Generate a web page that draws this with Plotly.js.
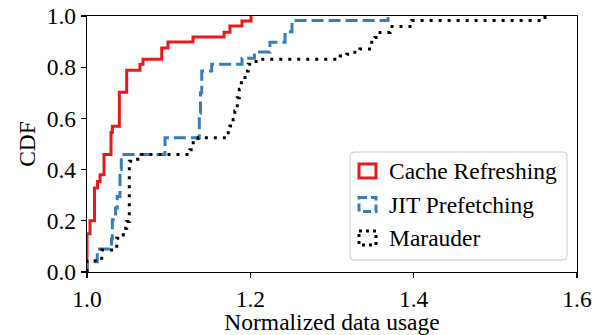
<!DOCTYPE html>
<html>
<head>
<meta charset="utf-8">
<script src="https://cdn.plot.ly/plotly-3.0.1.min.js"></script>
<style>html,body{margin:0;padding:0;background:#fff;}#chart{width:602px;height:335px;}</style>
</head>
<body>
<div id="chart"></div>
<script>
// ---- Data ----
const seriesNames = ["Cache Refreshing", "JIT Prefetching", "Marauder"];

const cacheX = [1.0, 1.0, 1.0037, 1.0092, 1.0129, 1.016, 1.0208, 1.0294, 1.031, 1.0396, 1.0486, 1.0649, 1.0686, 1.0915, 1.0992, 1.1298, 1.1678, 1.1751, 1.1898, 1.2008];
const cacheY = [0, 0.149, 0.2, 0.328, 0.354, 0.38, 0.459, 0.545, 0.569, 0.702, 0.788, 0.812, 0.831, 0.875, 0.898, 0.918, 0.937, 0.961, 0.980, 1.0];

const jitX = [1.0, 1.0, 1.0126, 1.030, 1.031, 1.035, 1.037, 1.0404, 1.042, 1.0955, 1.1375, 1.139, 1.1405, 1.1527, 1.1898, 1.205, 1.224, 1.2425, 1.251, 1.3686];
const jitY = [0, 0.04, 0.09, 0.13, 0.204, 0.25, 0.295, 0.40, 0.459, 0.524, 0.62, 0.70, 0.785, 0.812, 0.835, 0.859, 0.897, 0.938, 0.982, 1.0];

const marX = [1.0, 1.0, 1.018, 1.0364, 1.0404, 1.0444, 1.0486, 1.0518, 1.062, 1.067, 1.126, 1.130, 1.136, 1.173, 1.175, 1.179, 1.181, 1.184, 1.1865, 1.189, 1.1935, 1.1975, 1.207, 1.310, 1.318, 1.328, 1.334, 1.3486, 1.3527, 1.3588, 1.371, 1.3976, 1.5608];
const marY = [0, 0.044, 0.086, 0.132, 0.145, 0.171, 0.197, 0.433, 0.44, 0.459, 0.478, 0.505, 0.524, 0.544, 0.570, 0.596, 0.629, 0.681, 0.714, 0.76, 0.785, 0.812, 0.831, 0.844, 0.851, 0.858, 0.871, 0.897, 0.916, 0.936, 0.959, 0.982, 1.0];

const xTicks = [1.0, 1.2, 1.4, 1.6];
const yTicks = [0.0, 0.2, 0.4, 0.6, 0.8, 1.0];
const xTitle = "Normalized data usage";
const yTitle = "CDF";

// ---- Styles ----
const colors = ["#e41a1c", "#377eb8", "#000000"];
const dashes = ["solid", "12px,5px", "3px,6px"];
const FONT = "Liberation Serif, Times New Roman, serif";
const FS = 23.5;

const W = 602, H = 335;
const M = {l: 87, r: 25, t: 16, b: 63};
const pw = W - M.l - M.r, ph = H - M.t - M.b;
const px = v => (v - M.l) / pw;
const py = v => (H - M.b - v) / ph;

const xs = [cacheX, jitX, marX], ys = [cacheY, jitY, marY];
const traces = xs.map((x, i) => ({
  type: "scatter", mode: "lines", x: x, y: ys[i], name: seriesNames[i],
  line: {shape: "hv", color: colors[i], width: 3, dash: dashes[i]},
  showlegend: false, hoverinfo: "skip"
}));

// legend drawn manually (hollow square symbols)
const shapes = [];
const annotations = [];
const bx0 = 350, bx1 = 567, by0 = 152, by1 = 260, rr = 4;
const path = `M ${px(bx0 + rr)},${py(by0)} L ${px(bx1 - rr)},${py(by0)} Q ${px(bx1)},${py(by0)} ${px(bx1)},${py(by0 + rr)} ` +
  `L ${px(bx1)},${py(by1 - rr)} Q ${px(bx1)},${py(by1)} ${px(bx1 - rr)},${py(by1)} L ${px(bx0 + rr)},${py(by1)} ` +
  `Q ${px(bx0)},${py(by1)} ${px(bx0)},${py(by1 - rr)} L ${px(bx0)},${py(by0 + rr)} Q ${px(bx0)},${py(by0)} ${px(bx0 + rr)},${py(by0)} Z`;
shapes.push({type: "path", xref: "paper", yref: "paper", path: path,
  fillcolor: "rgba(255,255,255,0.85)", line: {color: "#cccccc", width: 1}, layer: "above"});
const rowY = [171, 204.5, 238];
rowY.forEach((cy, i) => {
  shapes.push({type: "rect", xref: "paper", yref: "paper",
    x0: px(359), x1: px(376), y0: py(cy - 7), y1: py(cy + 7),
    line: {color: colors[i], width: 3, dash: i === 0 ? "solid" : (i === 1 ? "8px,4px" : "3px,4px")},
    fillcolor: "rgba(0,0,0,0)", layer: "above"});
  annotations.push({xref: "paper", yref: "paper", x: px(387), y: py(cy), xanchor: "left", yanchor: "middle",
    text: seriesNames[i], showarrow: false, font: {family: FONT, size: FS, color: "#000"}});
});

const layout = {
  width: W, height: H,
  margin: {l: M.l, r: M.r, t: M.t, b: M.b, pad: 0},
  paper_bgcolor: "#fff", plot_bgcolor: "#fff",
  showlegend: false,
  font: {family: FONT, size: FS, color: "#000"},
  xaxis: {
    range: [1.0, 1.6], tickvals: xTicks, ticktext: xTicks.map(v => v.toFixed(1)),
    ticks: "outside", ticklen: 5, tickwidth: 1.2, tickcolor: "#000",
    showline: true, linecolor: "#000", linewidth: 1.3, mirror: true,
    showgrid: false, zeroline: false,
    tickfont: {family: FONT, size: FS, color: "#000"},
    title: {text: xTitle, font: {family: FONT, size: FS, color: "#000"}, standoff: 2}
  },
  yaxis: {
    range: [0, 1.0], tickvals: yTicks, ticktext: yTicks.map(v => v.toFixed(1)),
    ticks: "outside", ticklen: 5, tickwidth: 1.2, tickcolor: "#000",
    showline: true, linecolor: "#000", linewidth: 1.3, mirror: true,
    showgrid: false, zeroline: false,
    tickfont: {family: FONT, size: FS, color: "#000"},
    title: {text: yTitle, font: {family: FONT, size: FS, color: "#000"}, standoff: 4}
  },
  shapes: shapes,
  annotations: annotations
};

Plotly.newPlot("chart", traces, layout, {staticPlot: true, displayModeBar: false});
</script>
</body>
</html>
